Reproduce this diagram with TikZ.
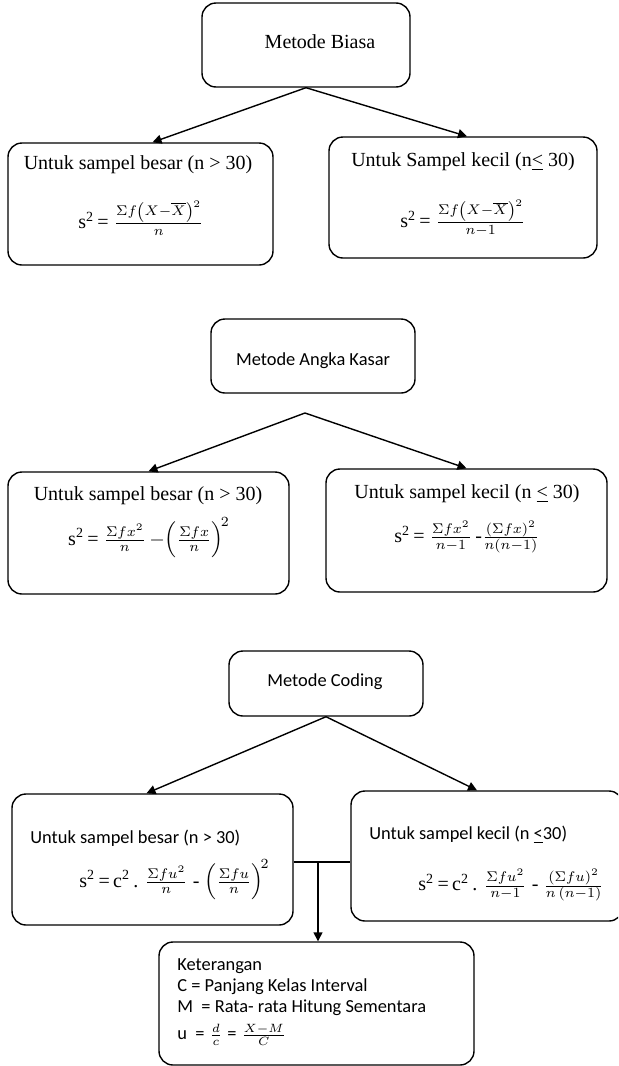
\documentclass[tikz,border=0pt]{standalone}
\usepackage{amsmath}
\usepackage{fontspec}
\setmainfont{Liberation Serif}
\newfontfamily\calibri{Carlito}
\usetikzlibrary{arrows.meta}

\tikzset{
  box/.style={draw, line width=0.7pt, rounded corners=7pt},
  tnr/.style={inner sep=0pt, font=\fontsize{10}{12}\selectfont},
  cal/.style={inner sep=0pt, font=\fontsize{9.2}{11}\selectfont\calibri},
  link/.style={line width=0.7pt, -{Triangle[length=4.5pt,width=4.5pt]}}
}
\newcommand{\sq}{s\textsuperscript{2}}

\begin{document}
\begin{tikzpicture}[x=0.5pt,y=-0.5pt]
\useasboundingbox (0,0) rectangle (618,1066);
\clip (0,0) rectangle (618,1066);

% metode biasa
\node[box, minimum width=104pt, minimum height=42pt] (biasa) at (306,45) {};
\node[tnr] (biasaTxt) at (320,42) {Metode Biasa};

\node[box, minimum width=132.5pt, minimum height=61pt] (besar1) at (140.5,204) {};
\node[tnr] (besar1Txt) at (138,165) {Untuk sampel besar (n > 30)};
\node[tnr] (besar1Rumus) at (141,218) {\sq\,= $\frac{\Sigma f\left(X-\overline{X}\right)^2}{n}$};

\node[box, minimum width=134pt, minimum height=60.5pt] (kecil1) at (463,197.5) {};
\node[tnr] (kecil1Txt) at (463,162) {Untuk Sampel kecil (n\underline{<} 30)};
\node[tnr] (kecil1Rumus) at (463,218) {\sq\,= $\frac{\Sigma f\left(X-\overline{X}\right)^2}{n-1}$};

\draw[link] (biasa.south) -- ([xshift=6pt]besar1.north);
\draw[link] (biasa.south) -- ([xshift=2pt]kecil1.north);

% metode angka kasar
\node[box, minimum width=102pt, minimum height=37pt] (kasar) at (313,356) {};
\node[cal] (kasarTxt) at (313,361) {Metode Angka Kasar};
\coordinate (apex2) at (305,413);

\node[box, minimum width=140.5pt, minimum height=61pt] (besar2) at (148.5,533) {};
\node[tnr] (besar2Txt) at (148,496) {Untuk sampel besar (n > 30)};
\node[tnr] (besar2Rumus) at (149,538) {\sq\,= $\frac{\Sigma fx^2}{n}\,{-}\!\left(\frac{\Sigma fx}{n}\right)^{\!2}$};

\node[box, minimum width=140.5pt, minimum height=61.5pt] (kecil2) at (466.5,530.5) {};
\node[tnr] (kecil2Txt) at (467,494) {Untuk sampel kecil (n \underline{<} 30)};
\node[tnr] (kecil2Rumus) at (467,537) {\sq\,= $\frac{\Sigma fx^2}{n-1}$\,-$\frac{(\Sigma fx)^2}{n(n-1)}$};

\draw[link] (apex2) -- (besar2.north);
\draw[link] (apex2) -- (kecil2.north);

% metode coding
\node[box, minimum width=97pt, minimum height=32.5pt] (coding) at (326,683.5) {};
\node[cal] (codingTxt) at (325,682) {Metode Coding};

\node[box, minimum width=140.5pt, minimum height=65.5pt] (besar3) at (152.5,859.5) {};
\node[cal, anchor=west] (besar3Txt) at (30,838) {Untuk sampel besar (n > 30)};
\node[tnr, anchor=west] (besar3Rumus) at (79,880) {\sq\,=\,c\textsuperscript{2}\,. $\frac{\Sigma fu^2}{n}$ - $\left(\frac{\Sigma fu}{n}\right)^{\!2}$};

\node[box, minimum width=136pt, minimum height=65pt] (kecil3) at (487,856) {};
\node[cal, anchor=west] (kecil3Txt) at (369,835) {Untuk sampel kecil (n \underline{<}30)};
\node[tnr, anchor=west] (kecil3Rumus) at (418,885) {\sq\,=\,c\textsuperscript{2}\,. $\frac{\Sigma fu^2}{n-1}$ - $\frac{(\Sigma fu)^2}{n\,(n-1)}$};

\draw[link] (coding.south) -- ([xshift=-3pt]besar3.north);
\draw[link] (coding.south) -- ([xshift=-5pt]kecil3.north);

% keterangan
\node[box, minimum width=157.5pt, minimum height=61.5pt] (ket) at (316.5,1003.5) {};
\node[cal, anchor=west] (ket1) at (177,966) {Keterangan};
\node[cal, anchor=west] (ket2) at (177,987) {C = Panjang Kelas Interval};
\node[cal, anchor=west] (ket3) at (177,1008) {M\ \ = Rata- rata Hitung Sementara};
\node[cal, anchor=west] (ket4) at (177,1035) {u\ \ =\;$\frac{d}{c}$\;=\;$\frac{X-M}{C}$};

\coordinate (join) at (318,862);
\draw[line width=0.7pt] (besar3.east |- join) -- (kecil3.west |- join);
\draw[link] (join) -- (join |- ket.north);
\end{tikzpicture}
\end{document}
